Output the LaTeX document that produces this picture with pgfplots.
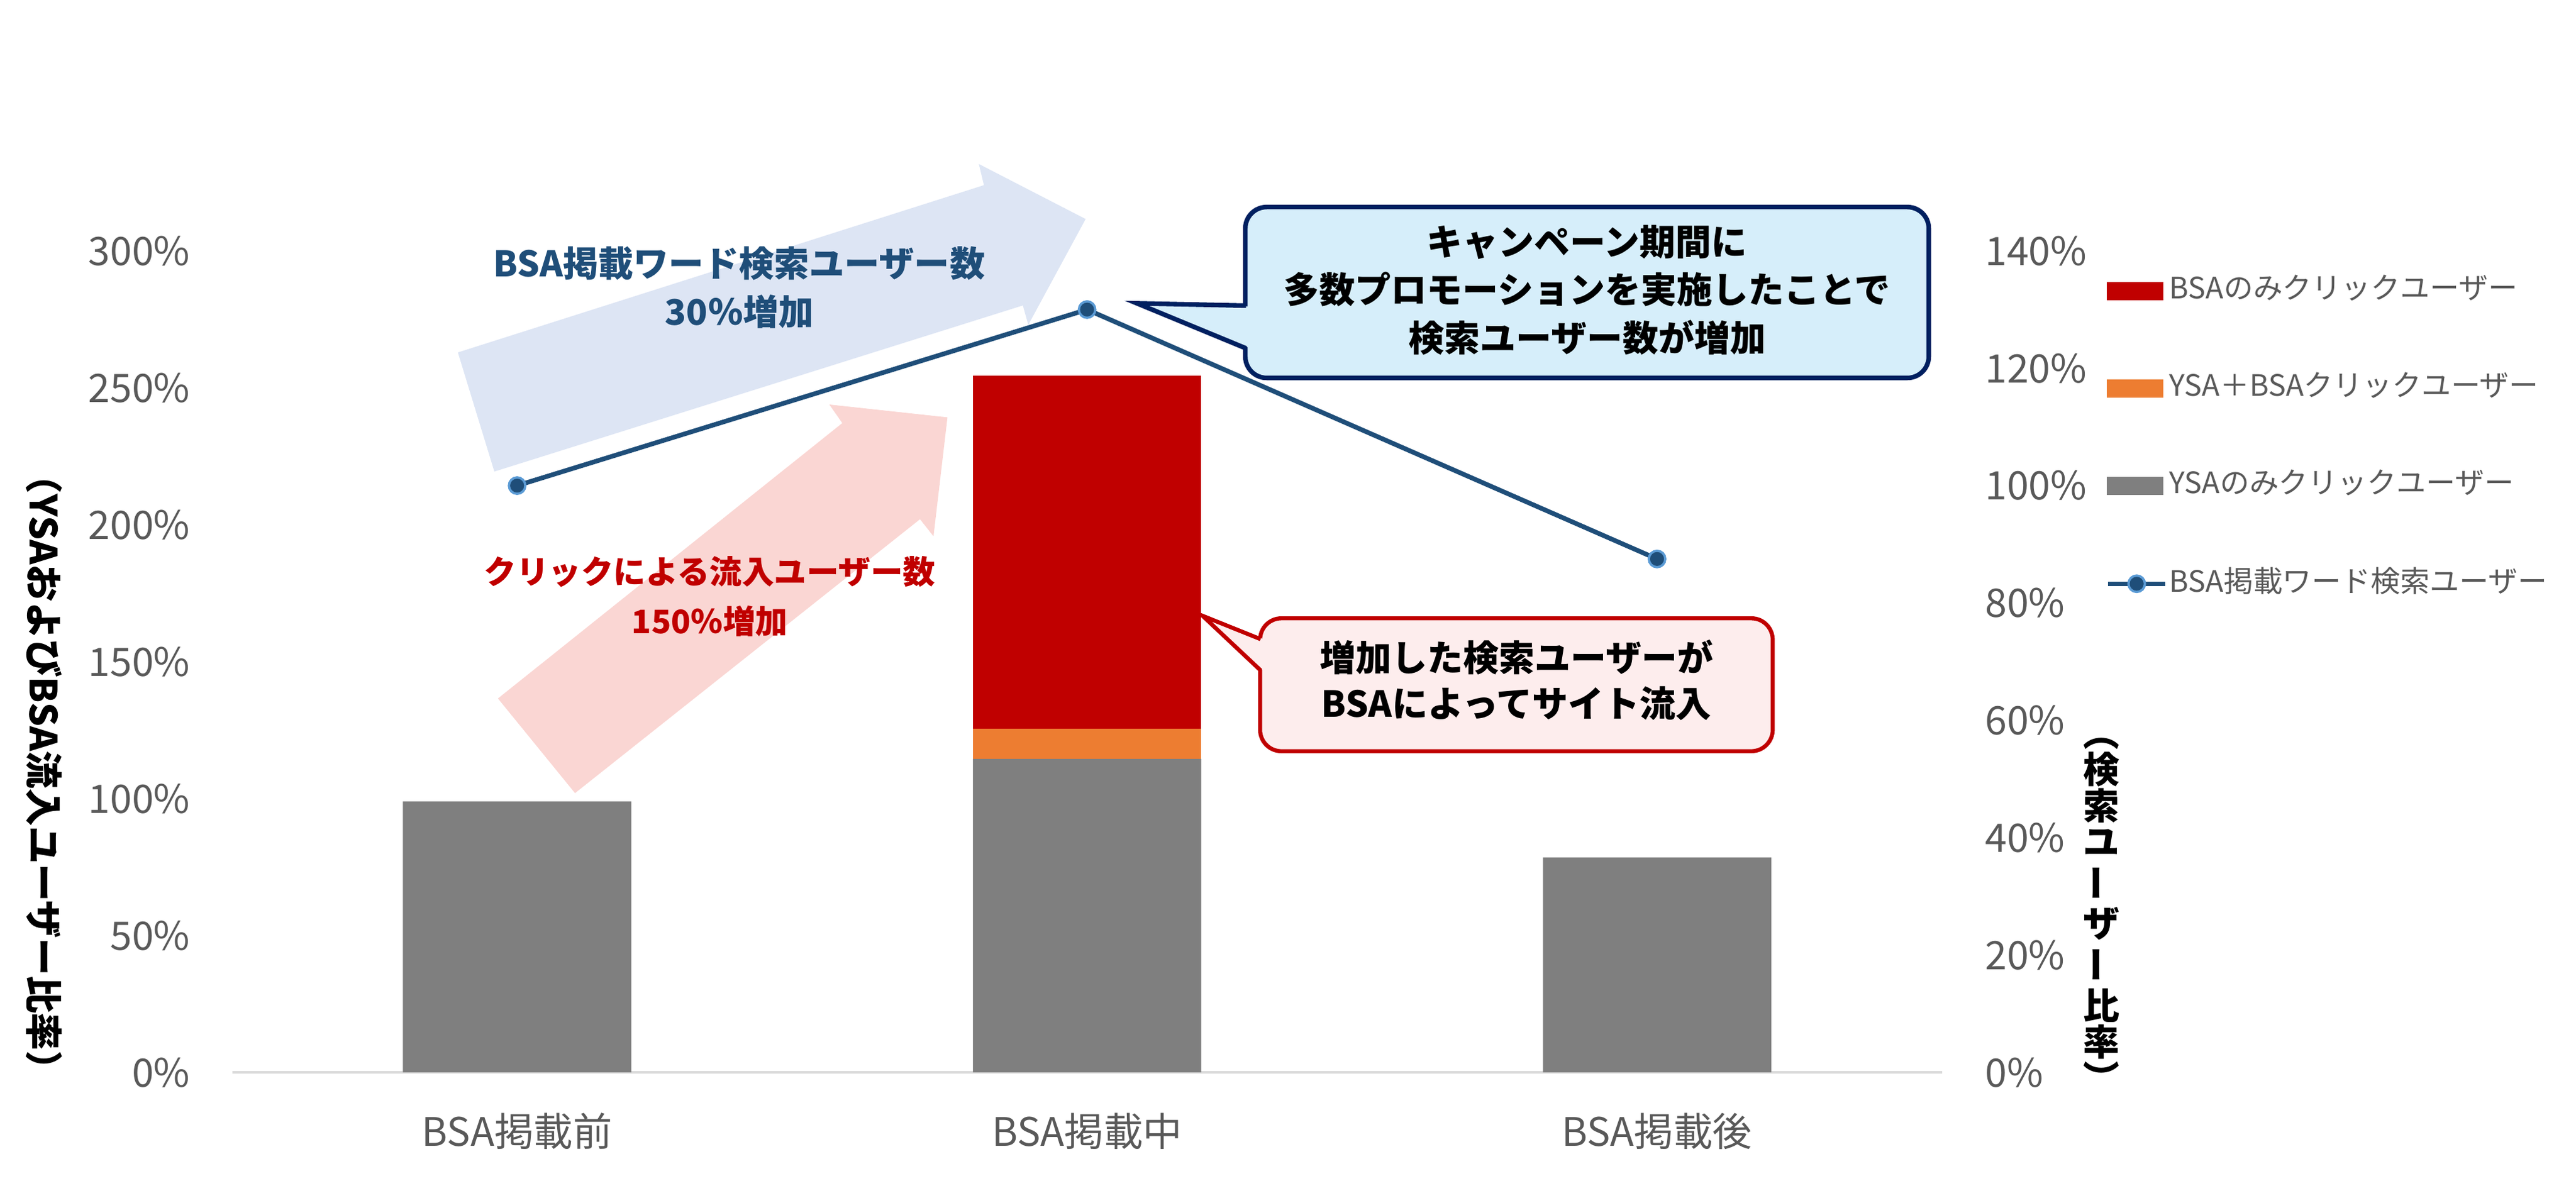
\documentclass[border=0pt]{standalone}
\usepackage{fontspec}
\setmainfont{Noto Sans CJK JP}
\usepackage{pgfplots}
\pgfplotsset{compat=1.18}

\definecolor{ysagray}{HTML}{7F7F7F}
\definecolor{bothorange}{HTML}{ED7D31}
\definecolor{bsared}{HTML}{C00000}
\definecolor{lineblue}{HTML}{1F4E79}
\definecolor{markedge}{HTML}{5B9BD5}
\definecolor{ticktext}{HTML}{595959}
\definecolor{baseline}{HTML}{D9D9D9}
\definecolor{arrowblue}{HTML}{DDE5F4}
\definecolor{arrowpink}{HTML}{FAD6D3}
\definecolor{callblue}{HTML}{D6EEFA}
\definecolor{calledge}{HTML}{002060}
\definecolor{callpink}{HTML}{FDEDED}

\newcommand{\fs}[2]{\fontsize{#1}{#2}\selectfont}

\begin{document}
\begin{tikzpicture}
\path[use as bounding box] (0,0) rectangle (156.8mm,73.2mm);

% big background arrows (picture units: 0.1mm, y downwards)
\begin{scope}[x=0.1mm,y=-0.1mm,shift={(0mm,73.2mm)}]
\fill[arrowblue] (278.7,214.5) -- (598.9,112.7) -- (595.8,99.8) -- (660.8,133.3)
  -- (625.9,197.7) -- (622.6,185.9) -- (300.9,287) -- cycle;
\fill[arrowpink] (303.1,425.1) -- (512.7,257.5) -- (504.8,246.2) -- (576.7,254)
  -- (568.2,326.4) -- (560,316) -- (350.0,482.7) -- cycle;
\end{scope}

% bars, left axis
\begin{axis}[
    at={(14.13mm,7.93mm)}, anchor=south west,
    scale only axis, width=104.08mm, height=50.0mm,
    xmin=-0.5, xmax=2.5, ymin=0, ymax=3,
    ybar stacked, bar width=13.9mm,
    axis x line*=bottom, axis y line*=left,
    y axis line style={draw=none},
    x axis line style={draw=baseline, line width=0.5pt},
    tick style={draw=none},
    xtick={0,1,2},
    xticklabels={BSA掲載前,BSA掲載中,BSA掲載後},
    ytick={0,0.5,1,1.5,2,2.5,3},
    yticklabels={0\%,50\%,100\%,150\%,200\%,250\%,300\%},
    xticklabel style={font=\fs{6.8}{8}, text=ticktext, inner sep=0pt, anchor=north, yshift=-2.4mm},
    yticklabel style={font=\fs{6.8}{8}, text=ticktext, inner sep=0pt, anchor=east, xshift=-2.5mm},
    clip=false,
]
\addplot[fill=ysagray, draw=none] coordinates {(0,0.99) (1,1.145) (2,0.785)};
\addplot[fill=bothorange, draw=none] coordinates {(0,0) (1,0.11) (2,0)};
\addplot[fill=bsared, draw=none] coordinates {(0,0) (1,1.29) (2,0)};
\end{axis}

% search users, right axis
\begin{axis}[
    at={(14.13mm,7.93mm)}, anchor=south west,
    scale only axis, width=104.08mm, height=50.0mm,
    xmin=-0.5, xmax=2.5, ymin=0, ymax=1.4,
    hide x axis,
    axis y line*=right,
    y axis line style={draw=none},
    tick style={draw=none},
    ytick={0,0.2,0.4,0.6,0.8,1.0,1.2,1.4},
    yticklabels={0\%,20\%,40\%,60\%,80\%,100\%,120\%,140\%},
    yticklabel style={font=\fs{6.8}{8}, text=ticktext, inner sep=0pt, anchor=west, xshift=2.56mm},
    legend style={at={(1.095,0.972)}, anchor=north west, draw=none, fill=none,
        font=\fs{5.1}{6}, text=ticktext, inner sep=0pt, row sep=3.95mm, column sep=0.1mm,
        nodes={inner sep=0pt}},
    legend cell align=left,
    clip=false,
]
\addlegendimage{legend image code/.code={\fill[bsared] (0mm,-0.48mm) rectangle (3.3mm,0.48mm);}}
\addlegendentry{BSAのみクリックユーザー}
\addlegendimage{legend image code/.code={\fill[bothorange] (0mm,-0.48mm) rectangle (3.3mm,0.48mm);}}
\addlegendentry{YSA＋BSAクリックユーザー}
\addlegendimage{legend image code/.code={\fill[ysagray] (0mm,-0.48mm) rectangle (3.3mm,0.48mm);}}
\addlegendentry{YSAのみクリックユーザー}
\addplot[color=lineblue, line width=0.8pt, mark=*, mark size=0.5mm,
    mark options={fill=lineblue, draw=markedge, line width=0.4pt},
    legend image code/.code={
      \draw[lineblue, line width=0.8pt, mark=*, mark size=0.5mm,
        mark options={fill=lineblue, draw=markedge, line width=0.4pt},
        mark repeat=2, mark phase=2] plot coordinates {(0mm,0mm) (1.75mm,0mm) (3.5mm,0mm)};}]
    coordinates {(0,1.00) (1,1.30) (2,0.875)};
\addlegendentry{BSA掲載ワード検索ユーザー}
\end{axis}

% callouts, annotations and axis titles
\begin{scope}[x=0.1mm,y=-0.1mm,shift={(0mm,73.2mm)}]
\filldraw[fill=callblue, draw=calledge, line width=0.8pt, rounded corners=1.3mm]
  (758,126) rectangle (1174,230);
\fill[callblue] (760,186.5) -- (692,184.6) -- (760,211.5) -- cycle;
\draw[calledge, line width=0.8pt] (758.4,186) -- (692,184.6) -- (758.4,212);
\node[font=\bfseries\fs{6.2}{8.3}, align=center] at (966,176.5)
  {キャンペーン期間に\\多数プロモーションを実施したことで\\検索ユーザー数が増加};

\filldraw[fill=callpink, draw=bsared, line width=0.7pt, rounded corners=1.3mm]
  (767,376.3) rectangle (1079,457.2);
\fill[callpink] (769,389) -- (732,374.8) -- (769,408) -- cycle;
\draw[bsared, line width=0.7pt] (767.3,389) -- (732,374.8) -- (767.3,408);
\node[font=\bfseries\fs{6.2}{8}, align=center] at (923,414)
  {増加した検索ユーザーが\\BSAによってサイト流入};

\node[text=lineblue, font=\bfseries\fs{6.1}{8.4}, align=center] at (450,175)
  {BSA掲載ワード検索ユーザー数\\30％増加};
\node[text=bsared, font=\bfseries\fs{5.6}{8.5}, align=center] at (432,363)
  {クリックによる流入ユーザー数\\150％増加};

\node[rotate=-90, font=\bfseries\fs{6.5}{8}] at (27,470)
  {（YSAおよびBSA流入ユーザー比率）};
\node[font=\bfseries\fs{6.3}{6.3}, align=center] at (1279,551)
  {\rotatebox[origin=c]{-90}{（}\\検\\索\\ユ\\\rotatebox[origin=c]{90}{ー}\\ザ\\\rotatebox[origin=c]{90}{ー}\\比\\率\\\rotatebox[origin=c]{-90}{）}};
\end{scope}
\end{tikzpicture}
\end{document}
